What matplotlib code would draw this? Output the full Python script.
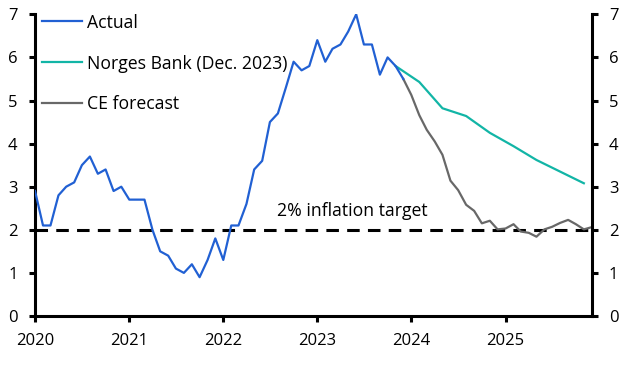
import numpy as np
import pandas as pd
import matplotlib
matplotlib.use("Agg")
import matplotlib.pyplot as plt

plt.rcParams['font.family'] = ['Open Sans', 'DejaVu Sans']

# Core inflation (y/y %), monthly
actual_start = '2020-01-01'
actual = [2.9, 2.1, 2.1, 2.8, 3.0, 3.1, 3.5, 3.7, 3.3, 3.4, 2.9, 3.0,
          2.7, 2.7, 2.7, 2.0, 1.5, 1.4, 1.1, 1.0, 1.2, 0.9, 1.3, 1.8,
          1.3, 2.1, 2.1, 2.6, 3.4, 3.6, 4.5, 4.7, 5.3, 5.9, 5.7, 5.8,
          6.4, 5.9, 6.2, 6.3, 6.6, 7.0, 6.3, 6.3, 5.6, 6.0, 5.8, 5.5]

# Norges Bank projection (Dec. 2023), mid-quarter points
nb_dates = ['2023-11-01', '2024-02-01', '2024-05-01', '2024-08-01', '2024-11-01',
            '2025-02-01', '2025-05-01', '2025-08-01', '2025-11-01']
nb_values = [5.8, 5.43, 4.82, 4.64, 4.25, 3.94, 3.62, 3.35, 3.08]

# CE forecast, monthly from Dec. 2023
ce_start = '2023-12-01'
ce_values = [5.5, 5.13, 4.66, 4.32, 4.05, 3.74, 3.14, 2.92, 2.58, 2.44, 2.15, 2.21,
             2.01, 2.03, 2.13, 1.96, 1.93, 1.84, 2.01, 2.07, 2.16, 2.23, 2.13, 2.01, 2.06]

target = 2.0
years = ['2020', '2021', '2022', '2023', '2024', '2025']

actual_dates = pd.date_range(actual_start, periods=len(actual), freq='MS')
ce_dates = pd.date_range(ce_start, periods=len(ce_values), freq='MS')

fig = plt.figure(figsize=(6.3, 3.67), dpi=100)
ax = fig.add_axes([0.0556, 0.139, 0.8834, 0.822])

blue = '#2160D3'
teal = '#12B5A6'
grey = '#686868'

ax.axhline(target, color='black', lw=2.2, linestyle=(0, (4.1, 2.7)), zorder=1)
ax.plot(pd.to_datetime(nb_dates), nb_values, color=teal, lw=1.6, label='Norges Bank (Dec. 2023)', zorder=2)
ax.plot(ce_dates, ce_values, color=grey, lw=1.6, label='CE forecast', zorder=2)
ax.plot(actual_dates, actual, color=blue, lw=1.6, label='Actual', zorder=3)

ax.text(pd.Timestamp('2022-07-28'), 2.33, '2% inflation target', fontsize=12.7, ha='left', va='baseline')

ax.set_xlim(pd.Timestamp('2020-01-01'), pd.Timestamp('2025-12-01'))
ax.set_ylim(0, 7)
ax.set_yticks(range(0, 8))
ax.set_xticks([pd.Timestamp(y + '-01-01') for y in years])
ax.set_xticklabels(years)

for s in ['left', 'right', 'bottom']:
    ax.spines[s].set_linewidth(2.2)
ax.spines['top'].set_visible(False)
ax.tick_params(axis='both', direction='out', length=4.5, width=2.2, labelsize=12, pad=8)
ax.tick_params(axis='y', right=True, labelright=True)

handles, labels = ax.get_legend_handles_labels()
order = [2, 0, 1]
ax.legend([handles[i] for i in order], [labels[i] for i in order],
          loc='upper left', bbox_to_anchor=(0.066, 0.963), bbox_transform=fig.transFigure,
          frameon=False, fontsize=12.7, handlelength=2.3, handletextpad=0.28,
          labelspacing=1.3, borderpad=0, borderaxespad=0)

fig.savefig('out.png', dpi=100)
